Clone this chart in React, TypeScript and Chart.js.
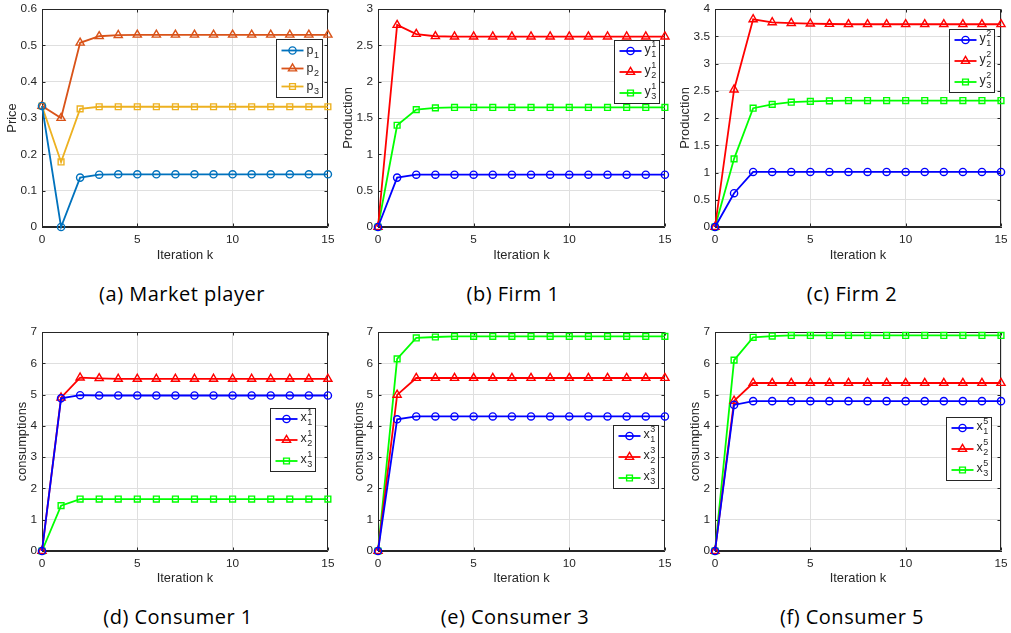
import React, { useEffect, useRef } from "react";
import { Chart, registerables } from "chart.js";

Chart.register(...registerables);

// ---------------- data ----------------
const ITERATIONS = [0, 1, 2, 3, 4, 5, 6, 7, 8, 9, 10, 11, 12, 13, 14, 15];

// (a) Market player – prices
const PRICE_P1 = [0.333, 0.0, 0.136, 0.144, 0.145, 0.145, 0.145, 0.145, 0.145, 0.145, 0.145, 0.145, 0.145, 0.145, 0.145, 0.145];
const PRICE_P2 = [0.333, 0.3, 0.507, 0.525, 0.528, 0.529, 0.529, 0.529, 0.529, 0.529, 0.529, 0.529, 0.529, 0.529, 0.529, 0.529];
const PRICE_P3 = [0.333, 0.179, 0.325, 0.331, 0.331, 0.331, 0.331, 0.331, 0.331, 0.331, 0.331, 0.331, 0.331, 0.331, 0.331, 0.331];

// (b) Firm 1 – production
const FIRM1_Y1 = [0, 0.68, 0.72, 0.72, 0.72, 0.72, 0.72, 0.72, 0.72, 0.72, 0.72, 0.72, 0.72, 0.72, 0.72, 0.72];
const FIRM1_Y2 = [0, 2.78, 2.655, 2.625, 2.62, 2.62, 2.62, 2.62, 2.62, 2.62, 2.62, 2.62, 2.62, 2.62, 2.62, 2.62];
const FIRM1_Y3 = [0, 1.4, 1.615, 1.64, 1.645, 1.645, 1.645, 1.645, 1.645, 1.645, 1.645, 1.645, 1.645, 1.645, 1.645, 1.645];

// (c) Firm 2 – production
const FIRM2_Y1 = [0, 0.62, 1.01, 1.01, 1.01, 1.01, 1.01, 1.01, 1.01, 1.01, 1.01, 1.01, 1.01, 1.01, 1.01, 1.01];
const FIRM2_Y2 = [0, 2.52, 3.81, 3.755, 3.74, 3.73, 3.725, 3.72, 3.72, 3.72, 3.72, 3.72, 3.72, 3.72, 3.72, 3.72];
const FIRM2_Y3 = [0, 1.25, 2.18, 2.25, 2.29, 2.305, 2.315, 2.32, 2.32, 2.32, 2.32, 2.32, 2.32, 2.32, 2.32, 2.32];

// (d) Consumer 1
const CONS1_X1 = [0, 4.88, 4.98, 4.97, 4.97, 4.97, 4.97, 4.97, 4.97, 4.97, 4.97, 4.97, 4.97, 4.97, 4.97, 4.97];
const CONS1_X2 = [0, 4.9, 5.54, 5.52, 5.5, 5.5, 5.5, 5.5, 5.5, 5.5, 5.5, 5.5, 5.5, 5.5, 5.5, 5.5];
const CONS1_X3 = [0, 1.45, 1.66, 1.66, 1.66, 1.66, 1.66, 1.66, 1.66, 1.66, 1.66, 1.66, 1.66, 1.66, 1.66, 1.66];

// (e) Consumer 3
const CONS3_X1 = [0, 4.21, 4.3, 4.3, 4.3, 4.3, 4.3, 4.3, 4.3, 4.3, 4.3, 4.3, 4.3, 4.3, 4.3, 4.3];
const CONS3_X2 = [0, 4.99, 5.53, 5.53, 5.53, 5.53, 5.53, 5.53, 5.53, 5.53, 5.53, 5.53, 5.53, 5.53, 5.53, 5.53];
const CONS3_X3 = [0, 6.14, 6.81, 6.84, 6.86, 6.86, 6.86, 6.86, 6.86, 6.86, 6.86, 6.86, 6.86, 6.86, 6.86, 6.86];

// (f) Consumer 5
const CONS5_X1 = [0, 4.67, 4.79, 4.79, 4.79, 4.79, 4.79, 4.79, 4.79, 4.79, 4.79, 4.79, 4.79, 4.79, 4.79, 4.79];
const CONS5_X2 = [0, 4.8, 5.37, 5.37, 5.37, 5.37, 5.37, 5.37, 5.37, 5.37, 5.37, 5.37, 5.37, 5.37, 5.37, 5.37];
const CONS5_X3 = [0, 6.1, 6.83, 6.87, 6.89, 6.89, 6.89, 6.89, 6.89, 6.89, 6.89, 6.89, 6.89, 6.89, 6.89, 6.89];

const X_TITLE = "Iteration k";
const CAPTIONS = ["(a) Market player", "(b) Firm 1", "(c) Firm 2", "(d) Consumer 1", "(e) Consumer 3", "(f) Consumer 5"];
const Y_TITLES = ["Price", "Production", "Production", "consumptions", "consumptions", "consumptions"];

// ---------------- styles ----------------
const AX_COLOR = "#262626";
const GRID_COLOR = "#dfdfdf";
const FONT = '"Liberation Sans", Arial, Helvetica, sans-serif';
const M_BLUE = "#0072BD";
const M_ORANGE = "#D95319";
const M_YELLOW = "#EDB120";
const BLUE = "#0000FF";
const RED = "#FF0000";
const GREEN = "#00FF00";

type Marker = "circle" | "triangle" | "rect";
const RADIUS: Record<Marker, number> = { circle: 3.6, triangle: 4.7, rect: 4.1 };
const LINE_W = 1.8;
const MARK_W = 1.4;

interface SeriesDef {
  base: string;
  sub: string;
  sup: string;
  values: number[];
  color: string;
  marker: Marker;
}

interface PanelDef {
  left: number;
  top: number;
  width: number;
  height: number;
  padTop: number;
  padRight: number;
  xAxisH: number;
  xTitlePad: number;
  yTitlePad: number;
  yTitle: string;
  yMax: number;
  yStep: number;
  series: SeriesDef[];
  legend: { right: number; top: number; rowH: number; padV: number };
  caption: string;
  capX: number;
  capY: number;
}

const tri = (base: string, sup: string, vals: number[][], colors: string[]): SeriesDef[] => {
  const markers: Marker[] = ["circle", "triangle", "rect"];
  return vals.map((v, i) => ({ base, sub: String(i + 1), sup, values: v, color: colors[i], marker: markers[i] }));
};

const PANELS: PanelDef[] = [
  {
    left: 0, top: 0, width: 334, height: 270, padTop: 9, padRight: 6, xAxisH: 43, xTitlePad: 7, yTitlePad: 5,
    yTitle: Y_TITLES[0], yMax: 0.6, yStep: 0.1,
    series: tri("p", "", [PRICE_P1, PRICE_P2, PRICE_P3], [M_BLUE, M_ORANGE, M_YELLOW]),
    legend: { right: 6, top: 30, rowH: 18, padV: 2 },
    caption: CAPTIONS[0], capX: 182, capY: 294,
  },
  {
    left: 336, top: 0, width: 335, height: 270, padTop: 9, padRight: 6, xAxisH: 43, xTitlePad: 7, yTitlePad: 5,
    yTitle: Y_TITLES[1], yMax: 3, yStep: 0.5,
    series: tri("y", "1", [FIRM1_Y1, FIRM1_Y2, FIRM1_Y3], [BLUE, RED, GREEN]),
    legend: { right: 6, top: 31, rowH: 21, padV: 0 },
    caption: CAPTIONS[1], capX: 513, capY: 294,
  },
  {
    left: 673, top: 0, width: 338, height: 270, padTop: 9, padRight: 10, xAxisH: 43, xTitlePad: 7, yTitlePad: 5,
    yTitle: Y_TITLES[2], yMax: 4, yStep: 0.5,
    series: tri("y", "2", [FIRM2_Y1, FIRM2_Y2, FIRM2_Y3], [BLUE, RED, GREEN]),
    legend: { right: 7, top: 20, rowH: 21, padV: 0 },
    caption: CAPTIONS[2], capX: 852, capY: 294,
  },
  {
    left: 0, top: 322, width: 334, height: 270, padTop: 10, padRight: 6, xAxisH: 41, xTitlePad: 6, yTitlePad: 14.5,
    yTitle: Y_TITLES[3], yMax: 7, yStep: 1,
    series: tri("x", "1", [CONS1_X1, CONS1_X2, CONS1_X3], [BLUE, RED, GREEN]),
    legend: { right: 13, top: 76, rowH: 21, padV: 0 },
    caption: CAPTIONS[3], capX: 178, capY: 617,
  },
  {
    left: 336, top: 322, width: 335, height: 270, padTop: 10, padRight: 6, xAxisH: 41, xTitlePad: 6, yTitlePad: 15.5,
    yTitle: Y_TITLES[4], yMax: 7, yStep: 1,
    series: tri("x", "3", [CONS3_X1, CONS3_X2, CONS3_X3], [BLUE, RED, GREEN]),
    legend: { right: 7, top: 93, rowH: 21, padV: 0 },
    caption: CAPTIONS[4], capX: 515, capY: 617,
  },
  {
    left: 673, top: 322, width: 338, height: 270, padTop: 10, padRight: 10, xAxisH: 41, xTitlePad: 6, yTitlePad: 14.5,
    yTitle: Y_TITLES[5], yMax: 7, yStep: 1,
    series: tri("x", "5", [CONS5_X1, CONS5_X2, CONS5_X3], [BLUE, RED, GREEN]),
    legend: { right: 10, top: 85, rowH: 21, padV: 0 },
    caption: CAPTIONS[5], capX: 852, capY: 617,
  },
];

// ---------------- helpers ----------------
function drawMarker(ctx: CanvasRenderingContext2D, marker: Marker, x: number, y: number, r: number) {
  ctx.beginPath();
  if (marker === "circle") {
    ctx.arc(x, y, r, 0, Math.PI * 2);
  } else if (marker === "triangle") {
    let rad = 0;
    const step = (2 * Math.PI) / 3;
    ctx.moveTo(x + Math.sin(rad) * r, y - Math.cos(rad) * r);
    rad += step;
    ctx.lineTo(x + Math.sin(rad) * r, y - Math.cos(rad) * r);
    rad += step;
    ctx.lineTo(x + Math.sin(rad) * r, y - Math.cos(rad) * r);
    ctx.closePath();
  } else {
    const s = r * Math.SQRT1_2;
    ctx.rect(x - s, y - s, 2 * s, 2 * s);
  }
  ctx.stroke();
}

const boxPlugin = {
  id: "matlabBox",
  beforeDatasetsDraw(chart: any) {
    const { ctx, chartArea } = chart;
    const L = Math.round(chartArea.left) + 0.5;
    const R = Math.round(chartArea.right) - 0.5;
    const T = Math.round(chartArea.top) + 0.5;
    const B = Math.round(chartArea.bottom) - 0.5;
    ctx.save();
    ctx.strokeStyle = AX_COLOR;
    ctx.lineWidth = 1;
    ctx.beginPath();
    ctx.moveTo(L, T);
    ctx.lineTo(R, T);
    ctx.lineTo(R, B);
    ctx.moveTo(L, T);
    ctx.lineTo(L, B);
    ctx.lineTo(R, B);
    const tl = 3;
    const xs = chart.scales.x;
    const ys = chart.scales.y;
    xs.ticks.forEach((t: any) => {
      const px = Math.round(xs.getPixelForValue(t.value)) + 0.5;
      ctx.moveTo(px, B);
      ctx.lineTo(px, B - tl);
      ctx.moveTo(px, T);
      ctx.lineTo(px, T + tl);
    });
    ys.ticks.forEach((t: any) => {
      const py = Math.round(ys.getPixelForValue(t.value)) + 0.5;
      ctx.moveTo(L, py);
      ctx.lineTo(L + tl, py);
      ctx.moveTo(R, py);
      ctx.lineTo(R - tl, py);
    });
    ctx.stroke();
    ctx.restore();
  },
};

const legendPlugin = {
  id: "matlabLegend",
  afterDatasetsDraw(chart: any, _args: any, opts: any) {
    const { ctx, chartArea } = chart;
    const entries: SeriesDef[] = opts.entries;
    const { right, top, rowH, padV } = opts;
    const baseFont = `12.5px ${FONT}`;
    const smallFont = `9px ${FONT}`;
    ctx.save();
    const widths = entries.map((e) => {
      ctx.font = baseFont;
      let w = ctx.measureText(e.base).width;
      ctx.font = smallFont;
      w += Math.max(ctx.measureText(e.sub).width, ctx.measureText(e.sup).width) + 1;
      return w;
    });
    const textW = Math.max(...widths);
    const padL = 5;
    const lineLen = 22;
    const gap = 3;
    const padR = 3;
    const boxW = Math.round(padL + lineLen + gap + textW + padR);
    const boxH = rowH * entries.length + padV * 2;
    const x0 = Math.round(chartArea.right - right - boxW) + 0.5;
    const y0 = Math.round(chartArea.top + top) + 0.5;
    ctx.fillStyle = "#ffffff";
    ctx.fillRect(x0, y0, boxW, boxH);
    ctx.strokeStyle = AX_COLOR;
    ctx.lineWidth = 1;
    ctx.strokeRect(x0, y0, boxW, boxH);
    entries.forEach((e, i) => {
      const cy = y0 + padV + rowH * (i + 0.5);
      const lx0 = x0 + padL;
      const lx1 = lx0 + lineLen;
      ctx.strokeStyle = e.color;
      ctx.lineWidth = LINE_W;
      ctx.beginPath();
      ctx.moveTo(lx0, cy);
      ctx.lineTo(lx1, cy);
      ctx.stroke();
      ctx.lineWidth = MARK_W;
      drawMarker(ctx, e.marker, (lx0 + lx1) / 2, cy, RADIUS[e.marker]);
      const tx = lx1 + gap;
      ctx.fillStyle = AX_COLOR;
      ctx.textAlign = "left";
      ctx.textBaseline = "alphabetic";
      ctx.font = baseFont;
      const baseY = e.sup ? cy + 2 : cy + 3;
      ctx.fillText(e.base, tx, baseY);
      const bw = ctx.measureText(e.base).width;
      ctx.font = smallFont;
      ctx.fillText(e.sub, tx + bw + 0.5, baseY + 4);
      if (e.sup) ctx.fillText(e.sup, tx + bw + 0.5, baseY - 6.5);
    });
    ctx.restore();
  },
};

const fmt = (v: any) => String(Math.round(Number(v) * 1000) / 1000);

function Panel({ p }: { p: PanelDef }) {
  const ref = useRef<HTMLCanvasElement | null>(null);
  useEffect(() => {
    if (!ref.current) return;
    const tickFont = { family: FONT, size: 11.8 };
    const titleFont = { family: FONT, size: 12.9 };
    const chart = new Chart(ref.current, {
      type: "line",
      data: {
        datasets: p.series.map((s) => ({
          label: s.base + s.sub + s.sup,
          data: ITERATIONS.map((k, i) => ({ x: k, y: s.values[i] })),
          borderColor: s.color,
          backgroundColor: "transparent",
          borderWidth: LINE_W,
          pointStyle: s.marker,
          pointRadius: RADIUS[s.marker],
          pointBorderWidth: MARK_W,
          pointBorderColor: s.color,
          pointBackgroundColor: "transparent",
          tension: 0,
          clip: false as any,
        })),
      },
      options: {
        responsive: false,
        animation: false,
        events: [],
        layout: { padding: { top: p.padTop, right: p.padRight, left: 0, bottom: 0 } },
        plugins: {
          legend: { display: false },
          tooltip: { enabled: false },
          matlabLegend: { entries: p.series, ...p.legend },
        } as any,
        scales: {
          x: {
            type: "linear",
            min: 0,
            max: 15,
            ticks: { stepSize: 5, color: AX_COLOR, font: tickFont, padding: 6, maxRotation: 0, callback: fmt },
            grid: { color: GRID_COLOR, lineWidth: 1, drawTicks: false },
            border: { display: true, color: AX_COLOR, width: 1 },
            title: { display: true, text: X_TITLE, color: AX_COLOR, font: titleFont, padding: { top: 0, bottom: p.xTitlePad } },
            afterFit: (s: any) => {
              s.height = p.xAxisH;
              s.paddingLeft = 0;
              s.paddingRight = 0;
            },
          },
          y: {
            type: "linear",
            min: 0,
            max: p.yMax,
            ticks: { stepSize: p.yStep, color: AX_COLOR, font: tickFont, padding: 5, callback: fmt },
            grid: { color: GRID_COLOR, lineWidth: 1, drawTicks: false },
            border: { display: true, color: AX_COLOR, width: 1 },
            title: { display: true, text: p.yTitle, color: AX_COLOR, font: titleFont, padding: { top: p.yTitlePad, bottom: 0 } },
            afterFit: (s: any) => {
              s.width = 42;
              s.paddingTop = 0;
              s.paddingBottom = 0;
            },
          },
        },
      },
      plugins: [boxPlugin, legendPlugin],
    });
    return () => chart.destroy();
  }, [p]);
  return (
    <>
      <canvas
        ref={ref}
        width={p.width}
        height={p.height}
        style={{ position: "absolute", left: p.left, top: p.top, width: p.width, height: p.height }}
      />
      <div
        style={{
          position: "absolute",
          left: p.capX,
          top: p.capY,
          transform: "translate(-50%, -50%)",
          whiteSpace: "nowrap",
          fontFamily: '"Open Sans", Lato, sans-serif',
          fontSize: 20,
          letterSpacing: 0.5,
          color: "#000",
          lineHeight: 1,
        }}
      >
        {p.caption}
      </div>
    </>
  );
}

export default function App() {
  return (
    <div style={{ position: "absolute", left: 0, top: 0, width: 1011, height: 633, background: "#fff", overflow: "hidden" }}>
      {PANELS.map((p, i) => (
        <Panel key={i} p={p} />
      ))}
    </div>
  );
}
